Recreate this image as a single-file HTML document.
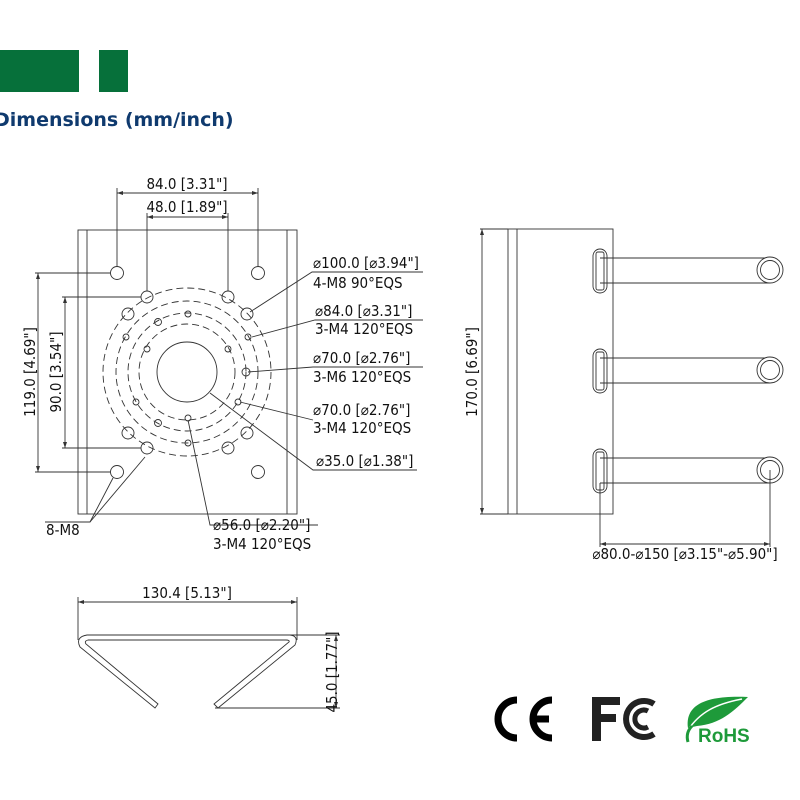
<!DOCTYPE html>
<html><head><meta charset="utf-8"><style>
html,body{margin:0;padding:0;background:#fff;width:800px;height:800px;overflow:hidden}
svg{display:block}
text{font-family:"DejaVu Sans Condensed","Liberation Sans",sans-serif;fill:#111;font-size:15px}
</style></head><body>
<svg width="800" height="800" viewBox="0 0 800 800" xmlns="http://www.w3.org/2000/svg">
<rect x="0" y="50" width="79" height="42" fill="#06703a"/>
<rect x="99" y="50" width="29" height="42" fill="#06703a"/>
<text x="-6" y="126" style="font-family:'DejaVu Sans','Liberation Sans',sans-serif;font-weight:bold;font-size:19px;fill:#0f3a6e">Dimensions (mm/inch)</text>

<g fill="none" stroke="#333" stroke-width="0.9">
<rect x="78" y="230" width="219" height="284"/>
<line x1="87" y1="230" x2="87" y2="514"/><line x1="287" y1="230" x2="287" y2="514"/>
<circle cx="117" cy="273" r="6.5"/><circle cx="258" cy="273" r="6.5"/>
<circle cx="117" cy="472" r="6.5"/><circle cx="258" cy="472" r="6.5"/>
<g stroke-dasharray="7,4">
<circle cx="187" cy="372" r="84"/><circle cx="187" cy="372" r="71"/>
<circle cx="187" cy="372" r="59"/><circle cx="187" cy="372" r="48"/>
</g>
<circle cx="187" cy="372" r="30"/>
<g>
<circle cx="147" cy="297" r="6"/><circle cx="228" cy="297" r="6"/>
<circle cx="128" cy="314" r="6"/><circle cx="247" cy="314" r="6"/>
<circle cx="128" cy="433" r="6"/><circle cx="247" cy="433" r="6"/>
<circle cx="147" cy="448" r="6"/><circle cx="228" cy="448" r="6"/>
</g>
<g>
<circle cx="188" cy="314" r="3"/><circle cx="158" cy="322" r="3.5"/>
<circle cx="126" cy="337" r="3"/><circle cx="248" cy="337" r="3"/>
<circle cx="147" cy="349" r="3"/><circle cx="228" cy="349" r="3"/>
<circle cx="246" cy="372" r="4"/><circle cx="136" cy="402" r="3"/>
<circle cx="238" cy="402" r="3"/><circle cx="158" cy="423" r="3.5"/>
<circle cx="188" cy="418" r="3"/><circle cx="188" cy="443" r="3"/>
</g>
<line x1="117" y1="188" x2="117" y2="267"/><line x1="258" y1="188" x2="258" y2="267"/>
<line x1="117" y1="193" x2="258" y2="193"/>
<line x1="147" y1="213" x2="147" y2="291"/><line x1="228" y1="213" x2="228" y2="291"/>
<line x1="147" y1="217" x2="228" y2="217"/>
<line x1="35" y1="273" x2="111" y2="273"/><line x1="35" y1="472" x2="111" y2="472"/>
<line x1="38" y1="273" x2="38" y2="472"/>
<line x1="62" y1="297" x2="141" y2="297"/><line x1="62" y1="448" x2="141" y2="448"/>
<line x1="65" y1="297" x2="65" y2="448"/>
<polyline points="250,312 312,272 423,272"/>
<polyline points="252,337 315,320 423,320"/>
<polyline points="248,372 313,367 423,367"/>
<polyline points="240,402 313,420"/>
<polyline points="210,393 313,470 417,470"/>
<polyline points="113,478 90,522 45,522"/>
<line x1="145" y1="457" x2="90" y2="522"/>
<polyline points="188,420 210,525 318,525"/>

<rect x="508" y="229" width="105" height="285"/>
<line x1="517" y1="229" x2="517" y2="514"/>
<line x1="480" y1="229" x2="508" y2="229"/><line x1="480" y1="514" x2="508" y2="514"/>
<line x1="482" y1="229" x2="482" y2="514"/>
<g>
<rect x="593" y="249" width="14" height="44" rx="7"/><rect x="596" y="252" width="8" height="38" rx="2"/>
<rect x="593" y="349" width="14" height="44" rx="7"/><rect x="596" y="352" width="8" height="38" rx="2"/>
<rect x="593" y="449" width="14" height="44" rx="7"/><rect x="596" y="452" width="8" height="38" rx="2"/>
<polyline points="600,258 770,258"/><polyline points="600,283 770,283"/>
<polyline points="600,358 770,358"/><polyline points="600,383 770,383"/>
<polyline points="600,458 770,458"/><polyline points="600,483 770,483"/>
<circle cx="770" cy="270" r="13" fill="#fff"/><circle cx="770" cy="270" r="9.5"/>
<circle cx="770" cy="370" r="13" fill="#fff"/><circle cx="770" cy="370" r="9.5"/>
<circle cx="770" cy="470" r="13" fill="#fff"/><circle cx="770" cy="470" r="9.5"/>
</g>
<line x1="600" y1="483" x2="600" y2="547"/><line x1="770" y1="470" x2="770" y2="547"/>
<line x1="600" y1="544" x2="770" y2="544"/>

<line x1="78" y1="597" x2="78" y2="640"/><line x1="297" y1="597" x2="297" y2="640"/>
<line x1="78" y1="602" x2="297" y2="602"/>
<path d="M87,635 L290,635 Q299,636 295,645 L218,708 L214,704 L289,642 Q290,640 286,640 L88,640 Q84,641 86,644 L158,704 L155,708 L80,647 Q75,637 87,635 Z"/>
<line x1="290" y1="635" x2="340" y2="635"/><line x1="215" y1="708" x2="340" y2="708"/>
<line x1="336" y1="635" x2="336" y2="708"/>
</g>

<g fill="#333">
<path d="M117,193 l6,-2 v4z"/><path d="M258,193 l-6,-2 v4z"/>
<path d="M147,217 l6,-2 v4z"/><path d="M228,217 l-6,-2 v4z"/>
<path d="M38,273 l-2,6 h4z"/><path d="M38,472 l-2,-6 h4z"/>
<path d="M65,297 l-2,6 h4z"/><path d="M65,448 l-2,-6 h4z"/>
<path d="M482,229 l-2,6 h4z"/><path d="M482,514 l-2,-6 h4z"/>
<path d="M600,544 l6,-2 v4z"/><path d="M770,544 l-6,-2 v4z"/>
<path d="M78,602 l6,-2 v4z"/><path d="M297,602 l-6,-2 v4z"/>
<path d="M336,635 l-2,6 h4z"/><path d="M336,708 l-2,-6 h4z"/>
</g>

<text x="187" y="189" text-anchor="middle">84.0 [3.31"]</text>
<text x="187" y="212" text-anchor="middle">48.0 [1.89"]</text>
<text transform="translate(35,372) rotate(-90)" text-anchor="middle">119.0 [4.69"]</text>
<text transform="translate(61,372) rotate(-90)" text-anchor="middle">90.0 [3.54"]</text>
<text x="313" y="268">⌀100.0 [⌀3.94"]</text>
<text x="313" y="288">4-M8 90°EQS</text>
<text x="315" y="316">⌀84.0 [⌀3.31"]</text>
<text x="315" y="334">3-M4 120°EQS</text>
<text x="313" y="363">⌀70.0 [⌀2.76"]</text>
<text x="313" y="382">3-M6 120°EQS</text>
<text x="313" y="415">⌀70.0 [⌀2.76"]</text>
<text x="313" y="433">3-M4 120°EQS</text>
<text x="316" y="466">⌀35.0 [⌀1.38"]</text>
<text x="46" y="535">8-M8</text>
<text x="213" y="530">⌀56.0 [⌀2.20"]</text>
<text x="213" y="549">3-M4 120°EQS</text>
<text transform="translate(477,372) rotate(-90)" text-anchor="middle">170.0 [6.69"]</text>
<text x="685" y="559" text-anchor="middle">⌀80.0-⌀150 [⌀3.15"-⌀5.90"]</text>
<text x="187" y="598" text-anchor="middle">130.4 [5.13"]</text>
<text transform="translate(337,672) rotate(-90)" text-anchor="middle">45.0 [1.77"]</text>

<g fill="none" stroke="#000" stroke-width="7">
<path d="M517,700 A19,19 0 1 0 517,738"/>
<path d="M552,700 A19,19 0 1 0 552,738"/>
<line x1="532" y1="719" x2="549" y2="719"/>
</g>
<g fill="#222">
<path d="M592,697 h28 v8 h-19 v9 h15 v8 h-15 v19 h-9z"/>
</g>
<g fill="none" stroke="#222">
<path d="M654,704 A18,18 0 1 0 654,734" stroke-width="6"/>
<path d="M648,711 A9,9 0 1 0 648,727" stroke-width="5"/>
</g>
<path d="M688,728 C685,705 705,695 748,697 C733,712 720,724 697,726 Z" fill="#1e9a3a"/>
<path d="M688,730 C700,712 716,704 742,699" stroke="#fff" stroke-width="1.5" fill="none"/>
<path d="M688,742 C686,735 688,730 692,726" stroke="#1e9a3a" stroke-width="3" fill="none"/>
<text x="698" y="742" style="font-family:'Liberation Sans',sans-serif;font-weight:bold;font-size:19px;fill:#1e9a3a">RoHS</text>
</svg>
</body></html>
